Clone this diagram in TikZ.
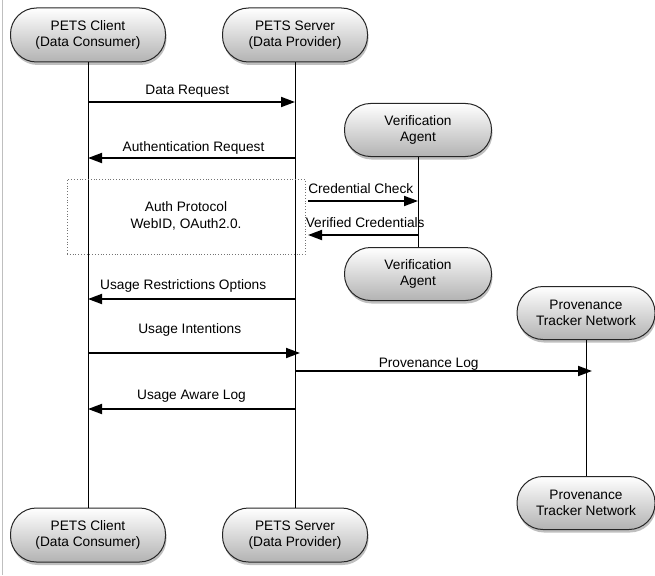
\documentclass[tikz,border=0pt]{standalone}
\usepackage{fontspec}
\setmainfont{Liberation Sans}
\usetikzlibrary{arrows.meta,shadows}
\begin{document}
\begin{tikzpicture}[x=1pt,y=-1pt,
  actor/.style={draw=black!85,line width=1pt,rounded corners=26pt,top color=white,bottom color=black!30,
    drop shadow={shadow xshift=1pt,shadow yshift=-3pt,opacity=0.5},
    minimum height=54pt,align=center,inner sep=0pt,font=\fontsize{13.7}{16.5}\selectfont},
  life/.style={draw=black,line width=0.8pt},
  msg/.style={draw=black,line width=1.8pt,-{Triangle[length=14pt,width=10pt]}},
  lbl/.style={font=\fontsize{13.7}{16}\selectfont,inner sep=0pt}]
\useasboundingbox (0,0) rectangle (655,575);
\draw[black!25,line width=1pt] (2,0) -- (2,575);
% actors
\node[actor,minimum width=155pt] (ct) at (88,35) {PETS Client\\(Data Consumer)};
\node[actor,minimum width=145pt] (st) at (295,35) {PETS Server\\(Data Provider)};
\node[actor,minimum width=147pt,minimum height=53pt] (vt) at (418,130) {Verification\\Agent};
\node[actor,minimum width=147pt,minimum height=53pt] (vb) at (418,274) {Verification\\Agent};
\node[actor,minimum width=138pt,minimum height=53pt] (pt) at (586,313) {Provenance\\Tracker Network};
\node[actor,minimum width=138pt,minimum height=53pt] (pb) at (586,503) {Provenance\\Tracker Network};
\node[actor,minimum width=155pt] (cb) at (88,535) {PETS Client\\(Data Consumer)};
\node[actor,minimum width=145pt] (sb) at (295,535) {PETS Server\\(Data Provider)};
% lifelines
\draw[life] (ct) -- (cb);
\draw[life] (st) -- (sb);
\draw[life] (vt) -- (vb);
\draw[life] (pt) -- (pb);
% dotted box
\node[draw=black!55,dotted,line width=0.8pt,minimum width=238pt,minimum height=75pt] (auth) at (186,217) {};
\node[lbl,align=center,font=\fontsize{13.7}{16.5}\selectfont] (authtxt) at (186,216) {Auth Protocol\\WebID, OAuth2.0.};
% coordinates on lifelines
\coordinate (c1) at (88,102);  \coordinate (s1) at (295,102);
\coordinate (c2) at (88,158);  \coordinate (s2) at (295,158);
\coordinate (a3) at (308,201); \coordinate (v3) at (418,201);
\coordinate (a4) at (308,235); \coordinate (v4) at (418,235);
\coordinate (c5) at (88,299);  \coordinate (s5) at (295,299);
\coordinate (c6) at (88,353);  \coordinate (s6) at (300,353);
\coordinate (s7) at (295,371); \coordinate (p7) at (592,371);
\coordinate (c8) at (88,409);  \coordinate (s8) at (295,409);
% messages
\draw[msg] (c1) -- (s1) node[lbl,pos=0.48,above=4pt] (l1) {Data Request};
\draw[msg] (s2) -- (c2) node[lbl,pos=0.49,above=3pt] (l2) {Authentication Request};
\draw[msg] (a3) -- (v3) node[lbl,pos=0.48,above=6pt] (l3) {Credential Check};
\draw[msg] (v4) -- (a4) node[lbl,pos=0.48,above=6pt] (l4) {Verified Credentials};
\draw[msg] (s5) -- (c5) node[lbl,pos=0.54,above=6pt] (l5) {Usage Restrictions Options};
\draw[msg] (c6) -- (s6) node[lbl,pos=0.48,above=16pt] (l6) {Usage Intentions};
\draw[msg] (s7) -- (p7) node[lbl,pos=0.45,above=0pt] (l7) {Provenance Log};
\draw[msg] (s8) -- (c8) node[lbl,pos=0.5,above=6pt] (l8) {Usage Aware Log};
\end{tikzpicture}
\end{document}
